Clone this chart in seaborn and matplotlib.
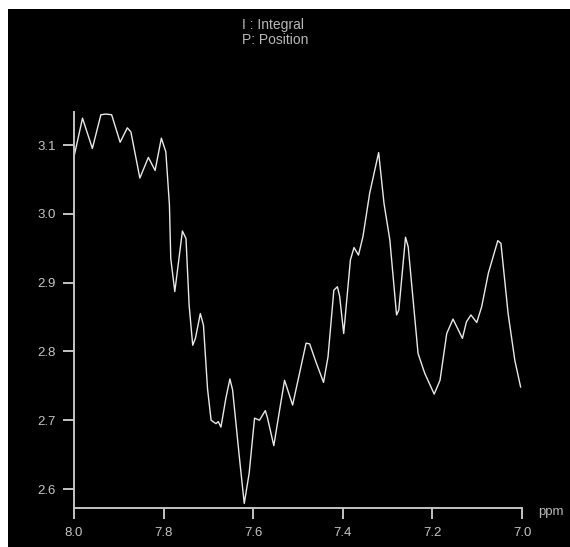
import matplotlib
matplotlib.use("Agg")
import matplotlib.pyplot as plt
from matplotlib.patches import Rectangle
import seaborn as sns
import pandas as pd

ppm = [8.000, 7.981, 7.959, 7.940, 7.929, 7.916, 7.897, 7.881, 7.873, 7.853,
       7.834, 7.819, 7.805, 7.795, 7.787, 7.784, 7.775, 7.758, 7.750, 7.743,
       7.735, 7.729, 7.718, 7.711, 7.702, 7.694, 7.683, 7.678, 7.672, 7.661,
       7.652, 7.646, 7.631, 7.620, 7.609, 7.597, 7.586, 7.573, 7.568, 7.554,
       7.541, 7.530, 7.512, 7.500, 7.482, 7.474, 7.459, 7.443, 7.433, 7.420,
       7.412, 7.407, 7.398, 7.383, 7.375, 7.365, 7.355, 7.340, 7.320, 7.308,
       7.295, 7.280, 7.275, 7.260, 7.254, 7.232, 7.217, 7.196, 7.183, 7.168,
       7.154, 7.133, 7.124, 7.114, 7.101, 7.090, 7.075, 7.054, 7.047, 7.031,
       7.016, 7.003]
intensity = [3.083, 3.139, 3.095, 3.144, 3.145, 3.144, 3.104, 3.125, 3.119, 3.052,
             3.082, 3.063, 3.110, 3.090, 3.013, 2.935, 2.887, 2.975, 2.964, 2.867,
             2.809, 2.819, 2.855, 2.838, 2.746, 2.700, 2.695, 2.698, 2.690, 2.732,
             2.760, 2.744, 2.647, 2.579, 2.623, 2.703, 2.700, 2.714, 2.703, 2.663,
             2.715, 2.758, 2.722, 2.758, 2.812, 2.811, 2.783, 2.755, 2.792, 2.889,
             2.894, 2.880, 2.826, 2.933, 2.951, 2.940, 2.967, 3.030, 3.089, 3.015,
             2.962, 2.853, 2.860, 2.966, 2.952, 2.797, 2.768, 2.738, 2.758, 2.826,
             2.847, 2.819, 2.843, 2.853, 2.842, 2.865, 2.914, 2.961, 2.957, 2.855,
             2.787, 2.748]
x_ticks = [8.0, 7.8, 7.6, 7.4, 7.2, 7.0]
y_ticks = [2.6, 2.7, 2.8, 2.9, 3.0, 3.1]
legend_lines = ["I : Integral", "P: Position"]
x_unit = "ppm"

sns.set_style("ticks")
plt.rcParams['font.family'] = ['Liberation Sans', 'DejaVu Sans']

W, H = 570, 547
fig = plt.figure(figsize=(W / 100, H / 100), dpi=100, facecolor="white")
fig.patches.append(Rectangle((8 / W, 0), (W - 8) / W, (H - 9) / H,
                             transform=fig.transFigure, facecolor="black",
                             edgecolor="none", zorder=-10))

ax = fig.add_axes([74 / W, (H - 508) / H, (522 - 74) / W, (508 - 112) / H])
ax.set_facecolor("black")
ax.set_zorder(1)

df = pd.DataFrame({"ppm": ppm, "intensity": intensity})
sns.lineplot(data=df, x="ppm", y="intensity", sort=False, ax=ax,
             color="#e8e8e8", linewidth=1.0)

ax.set_xlim(8.0, 7.0)
ax.set_ylim(2.5724, 3.148)
ax.set_xticks(x_ticks)
ax.set_xticklabels([f"{v:.1f}" for v in x_ticks])
ax.set_yticks(y_ticks)
ax.set_yticklabels([f"{v:.1f}" for v in y_ticks])
ax.set_xlabel("")
ax.set_ylabel("")

gray = "#c4c4c4"
for side in ["top", "right"]:
    ax.spines[side].set_visible(False)
for side in ["left", "bottom"]:
    ax.spines[side].set_color(gray)
    ax.spines[side].set_linewidth(1.4)
ax.tick_params(axis="y", direction="out", length=8, width=1.4, color=gray,
               labelcolor=gray, labelsize=9.5, pad=5)
ax.tick_params(axis="x", direction="out", length=8, width=1.4, color=gray,
               labelcolor=gray, labelsize=9.5, pad=6)

fig.text(242 / W, 1 - 18 / H, "\n".join(legend_lines), color="#b8b8b8",
         fontsize=10, ha="left", va="top", linespacing=1.1, zorder=2)
fig.text(538 / W, 1 - 512 / H, x_unit, color="#b8b8b8", fontsize=9.5,
         ha="left", va="center", zorder=2)

fig.savefig("out.png", dpi=100, facecolor=fig.get_facecolor())
